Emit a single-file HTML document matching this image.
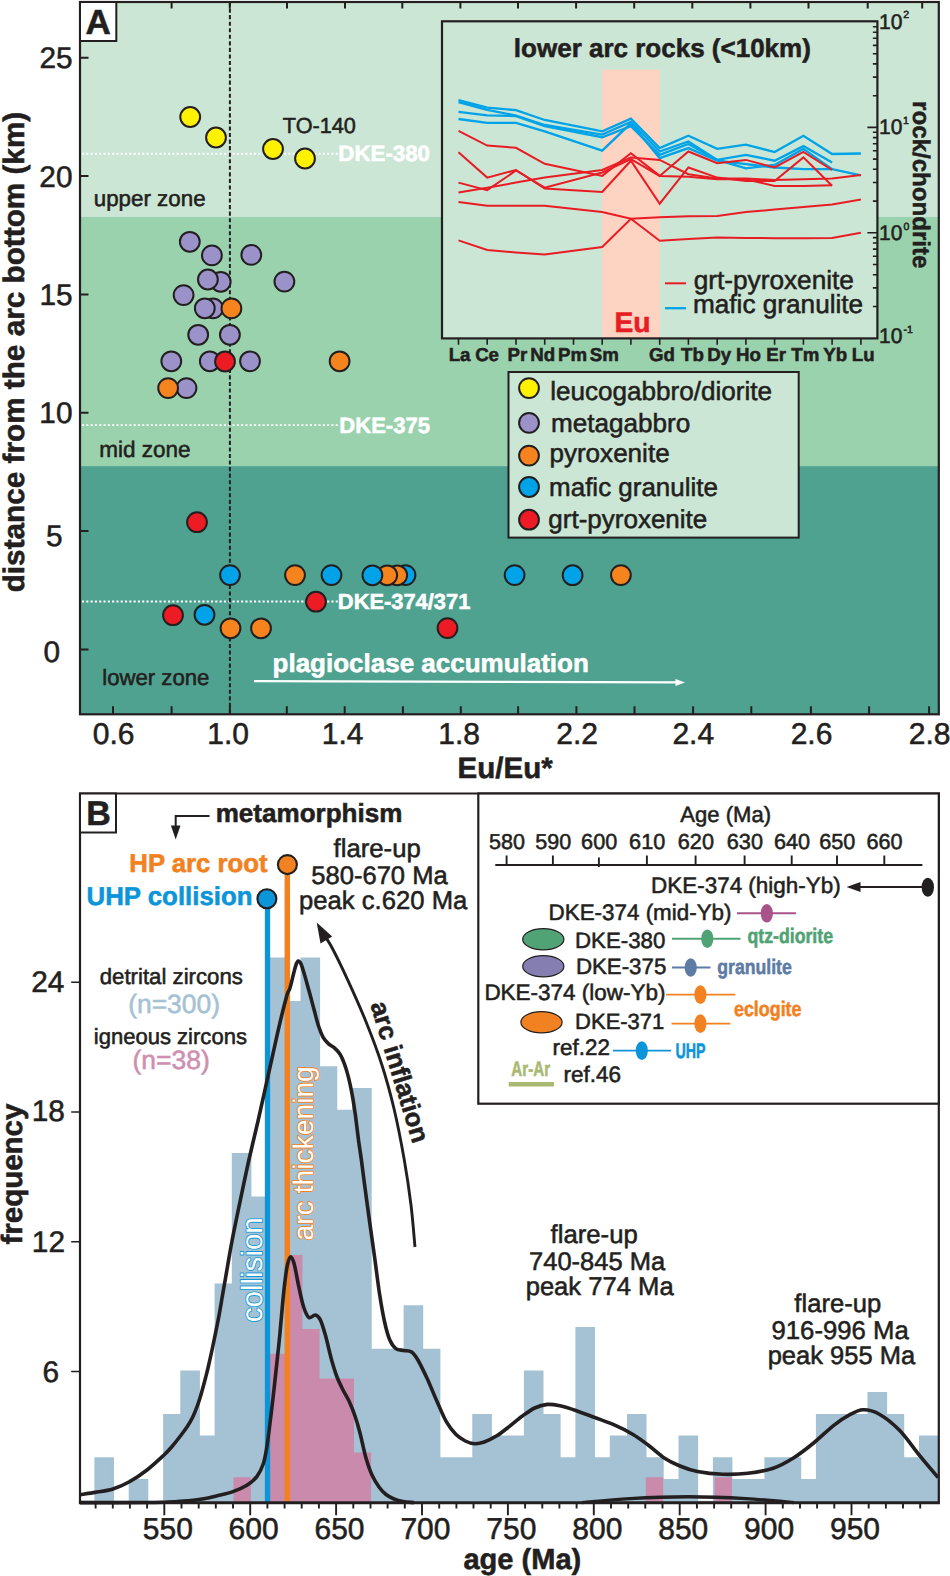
<!DOCTYPE html>
<html lang="en">
<head>
<meta charset="utf-8">
<title>Arc section Eu anomaly and zircon age figure</title>
<style>
html,body{margin:0;padding:0;background:#fff}
svg{display:block}
svg text{font-family:"Liberation Sans",sans-serif;text-rendering:geometricPrecision}
</style>
</head>
<body>
<svg width="950" height="1576" viewBox="0 0 950 1576">
<rect width="950" height="1576" fill="#fff"/>
<rect x="80" y="2" width="858.8" height="214.7" fill="#cbe6d4"/>
<rect x="80" y="216.7" width="858.8" height="249.40000000000003" fill="#9bd2ae"/>
<rect x="80" y="466.1" width="858.8" height="248.19999999999993" fill="#4fa290"/>
<line x1="82" y1="153.8" x2="339" y2="153.8" stroke="#fff" stroke-width="1.9" stroke-dasharray="2.1 2.2"/>
<line x1="82" y1="425.1" x2="340" y2="425.1" stroke="#fff" stroke-width="1.9" stroke-dasharray="2.1 2.2"/>
<line x1="82" y1="601.5" x2="339" y2="601.5" stroke="#fff" stroke-width="1.9" stroke-dasharray="2.1 2.2"/>
<line x1="229.9" y1="2" x2="229.9" y2="714.3" stroke="#231f20" stroke-width="2" stroke-dasharray="4.1 2.45"/>
<path d="M113 714.3v-8 M113.6 2v6.5 M171.6 714.3v-8 M171.6 2v6.5 M229.9 714.3v-8 M229.8 2v6.5 M286.8 714.3v-8 M287 2v6.5 M344.7 714.3v-8 M345 2v6.5 M402.9 714.3v-8 M402.3 2v6.5 M460.8 714.3v-8 M460.4 2v6.5 M518.1 714.3v-8 M518 2v6.5 M576.4 714.3v-8 M576.1 2v6.5 M634.5 714.3v-8 M634.2 2v6.5 M693.1 714.3v-8 M692.3 2v6.5 M751.3 714.3v-8 M750.4 2v6.5 M810.9 714.3v-8 M808.5 2v6.5 M869.1 714.3v-8 M867.7 2v6.5 M929.1 714.3v-8 M922.2 2v6.5 M80 649.5h8.5 M80 531.1h8.5 M80 412.8h8.5 M80 294.4h8.5 M80 176.1h8.5 M80 57.8h8.5" stroke="#231f20" stroke-width="2" fill="none"/>
<rect x="80" y="2" width="858.8" height="712.3" fill="none" stroke="#231f20" stroke-width="2.2"/>
<rect x="80" y="2" width="36.3" height="39" fill="#fff" stroke="#231f20" stroke-width="2"/>
<text x="98.2" y="33.8" font-size="35" font-weight="bold" fill="#231f20" text-anchor="middle" stroke="#231f20" stroke-width="0.55">A</text>
<text x="92.8" y="743.9" font-size="30" fill="#231f20" stroke="#231f20" stroke-width="0.55">0.6</text>
<text x="207.25" y="743.9" font-size="30" fill="#231f20" stroke="#231f20" stroke-width="0.55">1.0</text>
<text x="321.75" y="743.9" font-size="30" fill="#231f20" stroke="#231f20" stroke-width="0.55">1.4</text>
<text x="438.22" y="743.9" font-size="30" fill="#231f20" stroke="#231f20" stroke-width="0.55">1.8</text>
<text x="556.35" y="743.9" font-size="30" fill="#231f20" stroke="#231f20" stroke-width="0.55">2.2</text>
<text x="672.45" y="743.9" font-size="30" fill="#231f20" stroke="#231f20" stroke-width="0.55">2.4</text>
<text x="790.7" y="743.9" font-size="30" fill="#231f20" stroke="#231f20" stroke-width="0.55">2.6</text>
<text x="908.83" y="743.9" font-size="30" fill="#231f20" stroke="#231f20" stroke-width="0.55">2.8</text>
<text x="457.55" y="777.7" font-size="29.56" font-weight="bold" fill="#231f20" stroke="#231f20" stroke-width="0.55">Eu/Eu*</text>
<text x="39.44" y="68.2" font-size="29.8" fill="#231f20" stroke="#231f20" stroke-width="0.55">25</text>
<text x="39.36" y="186.5" font-size="29.8" fill="#231f20" stroke="#231f20" stroke-width="0.55">20</text>
<text x="39.44" y="304.8" font-size="29.8" fill="#231f20" stroke="#231f20" stroke-width="0.55">15</text>
<text x="39.36" y="423.2" font-size="29.8" fill="#231f20" stroke="#231f20" stroke-width="0.55">10</text>
<text x="46.03" y="545.7" font-size="29.8" fill="#231f20" stroke="#231f20" stroke-width="0.55">5</text>
<text x="43.43" y="661.6" font-size="29.8" fill="#231f20" stroke="#231f20" stroke-width="0.55">0</text>
<text x="0" y="0" transform="translate(23.8 592.31) rotate(-90)" font-size="29.72" font-weight="bold" fill="#231f20" stroke="#231f20" stroke-width="0.55">distance from the arc bottom (km)</text>
<text x="93.78" y="206.2" font-size="22.35" fill="#231f20" stroke="#231f20" stroke-width="0.55">upper zone</text>
<text x="99.21" y="457.1" font-size="22.54" fill="#231f20" stroke="#231f20" stroke-width="0.55">mid zone</text>
<text x="102.23" y="685.4" font-size="22.18" fill="#231f20" stroke="#231f20" stroke-width="0.55">lower zone</text>
<text x="282.84" y="132.6" font-size="21.66" fill="#231f20" stroke="#231f20" stroke-width="0.55">TO-140</text>
<text x="338.32" y="161.2" font-size="22.31" font-weight="bold" fill="#fff" stroke="#fff" stroke-width="0.55">DKE-380</text>
<text x="339.34" y="432.7" font-size="22.04" font-weight="bold" fill="#fff" stroke="#fff" stroke-width="0.55">DKE-375</text>
<text x="337.85" y="609.2" font-size="21.86" font-weight="bold" fill="#fff" stroke="#fff" stroke-width="0.55">DKE-374/371</text>
<text x="272.59" y="671.5" font-size="25.99" font-weight="bold" fill="#fff" stroke="#fff" stroke-width="0.55">plagioclase accumulation</text>
<path d="M254 681.2L678 682.4" stroke="#fff" stroke-width="2.2" fill="none"/>
<path d="M685 682.5l-9.5 -3.6v7.2z" fill="#fff"/>
<circle cx="190.2" cy="117" r="9.9" fill="#fff200" stroke="#231f20" stroke-width="2"/>
<circle cx="216" cy="137.5" r="9.9" fill="#fff200" stroke="#231f20" stroke-width="2"/>
<circle cx="273" cy="149" r="9.9" fill="#fff200" stroke="#231f20" stroke-width="2"/>
<circle cx="305" cy="158.5" r="9.9" fill="#fff200" stroke="#231f20" stroke-width="2"/>
<circle cx="189.8" cy="241.8" r="9.9" fill="#9b92c9" stroke="#231f20" stroke-width="2"/>
<circle cx="211.9" cy="255.4" r="9.9" fill="#9b92c9" stroke="#231f20" stroke-width="2"/>
<circle cx="251.3" cy="254.9" r="9.9" fill="#9b92c9" stroke="#231f20" stroke-width="2"/>
<circle cx="220.7" cy="281.8" r="9.9" fill="#9b92c9" stroke="#231f20" stroke-width="2"/>
<circle cx="207.9" cy="279.5" r="9.9" fill="#9b92c9" stroke="#231f20" stroke-width="2"/>
<circle cx="284.4" cy="281.6" r="9.9" fill="#9b92c9" stroke="#231f20" stroke-width="2"/>
<circle cx="183.6" cy="295.1" r="9.9" fill="#9b92c9" stroke="#231f20" stroke-width="2"/>
<circle cx="213" cy="308.4" r="9.9" fill="#9b92c9" stroke="#231f20" stroke-width="2"/>
<circle cx="204.8" cy="308.3" r="9.9" fill="#9b92c9" stroke="#231f20" stroke-width="2"/>
<circle cx="231.4" cy="308.4" r="9.9" fill="#f5841f" stroke="#231f20" stroke-width="2"/>
<circle cx="198.2" cy="334.8" r="9.9" fill="#9b92c9" stroke="#231f20" stroke-width="2"/>
<circle cx="229.9" cy="334.8" r="9.9" fill="#9b92c9" stroke="#231f20" stroke-width="2"/>
<circle cx="171.3" cy="361.3" r="9.9" fill="#9b92c9" stroke="#231f20" stroke-width="2"/>
<circle cx="209.8" cy="361.3" r="9.9" fill="#9b92c9" stroke="#231f20" stroke-width="2"/>
<circle cx="250" cy="361.3" r="9.9" fill="#9b92c9" stroke="#231f20" stroke-width="2"/>
<circle cx="225" cy="361.5" r="9.9" fill="#ed1c24" stroke="#231f20" stroke-width="2"/>
<circle cx="339.6" cy="361.3" r="9.9" fill="#f5841f" stroke="#231f20" stroke-width="2"/>
<circle cx="186.5" cy="388.1" r="9.9" fill="#9b92c9" stroke="#231f20" stroke-width="2"/>
<circle cx="168.1" cy="388.1" r="9.9" fill="#f5841f" stroke="#231f20" stroke-width="2"/>
<circle cx="197" cy="522.2" r="9.9" fill="#ed1c24" stroke="#231f20" stroke-width="2"/>
<circle cx="230" cy="575.1" r="9.9" fill="#00a3e8" stroke="#231f20" stroke-width="2"/>
<circle cx="295" cy="575.1" r="9.9" fill="#f5841f" stroke="#231f20" stroke-width="2"/>
<circle cx="331.5" cy="575.1" r="9.9" fill="#00a3e8" stroke="#231f20" stroke-width="2"/>
<circle cx="405.5" cy="575.1" r="9.9" fill="#00a3e8" stroke="#231f20" stroke-width="2"/>
<circle cx="397.2" cy="575.3" r="9.9" fill="#f5841f" stroke="#231f20" stroke-width="2"/>
<circle cx="387.2" cy="575.3" r="9.9" fill="#f5841f" stroke="#231f20" stroke-width="2"/>
<circle cx="372.4" cy="575.3" r="9.9" fill="#00a3e8" stroke="#231f20" stroke-width="2"/>
<circle cx="514.6" cy="575.1" r="9.9" fill="#00a3e8" stroke="#231f20" stroke-width="2"/>
<circle cx="572.6" cy="575.2" r="9.9" fill="#00a3e8" stroke="#231f20" stroke-width="2"/>
<circle cx="620.9" cy="575.1" r="9.9" fill="#f5841f" stroke="#231f20" stroke-width="2"/>
<circle cx="316" cy="601.7" r="9.9" fill="#ed1c24" stroke="#231f20" stroke-width="2"/>
<circle cx="173" cy="615.2" r="9.9" fill="#ed1c24" stroke="#231f20" stroke-width="2"/>
<circle cx="204.5" cy="614.8" r="9.9" fill="#00a3e8" stroke="#231f20" stroke-width="2"/>
<circle cx="230.5" cy="628.3" r="9.9" fill="#f5841f" stroke="#231f20" stroke-width="2"/>
<circle cx="261" cy="628.3" r="9.9" fill="#f5841f" stroke="#231f20" stroke-width="2"/>
<circle cx="447.5" cy="628.1" r="9.9" fill="#ed1c24" stroke="#231f20" stroke-width="2"/>
<rect x="442" y="21.3" width="435.4" height="317.09999999999997" fill="#cbe6d4"/>
<rect x="602.1" y="69.5" width="57.8" height="268.9" fill="#fdd3c1"/>
<polyline points="458.5,100.1 487.2,107.7 516.0,110.2 544.7,120 602.2,131.3 630.9,118.6 659.7,148.1 688.4,135.8 717.2,148.9 745.9,144.7 774.6,152 803.4,135.8 832.1,154 860.9,153.5" fill="none" stroke="#00a3e8" stroke-width="2.3" stroke-linejoin="miter"/>
<polyline points="458.5,102.1 487.2,109.9 516.0,115.6 544.7,125 602.2,134.6 630.9,121.9 659.7,151.5 688.4,141.4 717.2,159.9 745.9,154.8 774.6,160.7 803.4,146.1 832.1,162.4" fill="none" stroke="#00a3e8" stroke-width="2.3" stroke-linejoin="miter"/>
<polyline points="458.5,111.9 487.2,115.3 516.0,116.1 544.7,126.2 602.2,137.2 630.9,126.2 659.7,154.8 688.4,143.9 717.2,159.9 745.9,168.3 774.6,164.9 803.4,148.9 832.1,169.2" fill="none" stroke="#00a3e8" stroke-width="2.3" stroke-linejoin="miter"/>
<polyline points="458.5,119 487.2,122.8 516.0,122.8 544.7,131.3 602.2,150.6 630.9,123.3 659.7,158.2 688.4,148.1 717.2,160.7 745.9,164.1 774.6,167.5 803.4,169.2 832.1,169.2 860.9,175.4" fill="none" stroke="#00a3e8" stroke-width="2.3" stroke-linejoin="miter"/>
<polyline points="458.5,130.9 487.2,145.6 516.0,147.8 544.7,163.8 602.2,175.9 630.9,153.2 659.7,175.9 688.4,151.5 717.2,163.3 745.9,159.9 774.6,167.5 803.4,151.8 832.1,170" fill="none" stroke="#e81c24" stroke-width="2.0" stroke-linejoin="miter"/>
<polyline points="458.5,152.3 487.2,177.6 516.0,170 544.7,188.5 602.2,191.9 630.9,160.7 659.7,203.7 688.4,167.5 717.2,177.6 745.9,180.9 774.6,180.9 803.4,157.4 832.1,185.7" fill="none" stroke="#e81c24" stroke-width="2.0" stroke-linejoin="miter"/>
<polyline points="458.5,182.6 487.2,190.2 516.0,170.5 544.7,187.7 602.2,172.5 630.9,159.1 659.7,175.9 688.4,176.7 717.2,179.3 745.9,179.3 774.6,186 803.4,186 832.1,185.2" fill="none" stroke="#e81c24" stroke-width="2.0" stroke-linejoin="miter"/>
<polyline points="458.5,192.4 487.2,187.7 516.0,182.6 544.7,177.6 602.2,170 630.9,157.4 659.7,159.9 688.4,174.2 717.2,178.4 745.9,178.4 774.6,180.1 803.4,179.3 832.1,178.4 860.9,175.1" fill="none" stroke="#e81c24" stroke-width="2.0" stroke-linejoin="miter"/>
<polyline points="458.5,202 487.2,205.7 516.0,205.7 544.7,205.7 602.2,212.1 630.9,218.8 659.7,217.2 688.4,216.3 717.2,216 745.9,212.1 774.6,209.6 803.4,207.1 832.1,204.5 860.9,199.5" fill="none" stroke="#e81c24" stroke-width="2.0" stroke-linejoin="miter"/>
<polyline points="458.5,240.4 487.2,250 516.0,252.5 544.7,254.5 602.2,247 630.9,218.8 659.7,240.7 688.4,239.1 717.2,237.4 745.9,237.9 774.6,238.2 803.4,238.2 832.1,237.9 860.9,232.8" fill="none" stroke="#e81c24" stroke-width="2.0" stroke-linejoin="miter"/>
<path d="M877.4 306.5h-4.5 M877.4 287.9h-4.5 M877.4 274.7h-4.5 M877.4 264.5h-4.5 M877.4 256.2h-4.5 M877.4 249.1h-4.5 M877.4 243.0h-4.5 M877.4 237.6h-4.5 M877.4 201.1h-4.5 M877.4 182.5h-4.5 M877.4 169.3h-4.5 M877.4 159.1h-4.5 M877.4 150.8h-4.5 M877.4 143.7h-4.5 M877.4 137.6h-4.5 M877.4 132.2h-4.5 M877.4 95.7h-4.5 M877.4 77.1h-4.5 M877.4 63.9h-4.5 M877.4 53.7h-4.5 M877.4 45.4h-4.5 M877.4 38.3h-4.5 M877.4 32.2h-4.5 M877.4 26.8h-4.5 M877.4 232.8h-10 M877.4 127.4h-10 M458.5 338.4v6.3 M487.2 338.4v6.3 M516.0 338.4v6.3 M544.7 338.4v6.3 M573.5 338.4v6.3 M602.2 338.4v6.3 M630.9 338.4v6.3 M659.7 338.4v6.3 M688.4 338.4v6.3 M717.2 338.4v6.3 M745.9 338.4v6.3 M774.6 338.4v6.3 M803.4 338.4v6.3 M832.1 338.4v6.3 M860.9 338.4v6.3" stroke="#231f20" stroke-width="1.6" fill="none"/>
<rect x="442" y="21.3" width="435.4" height="317.09999999999997" fill="none" stroke="#231f20" stroke-width="2.2"/>
<text x="513.87" y="56.5" font-size="26.0" font-weight="bold" fill="#231f20" stroke="#231f20" stroke-width="0.55">lower arc rocks (&lt;10km)</text>
<text x="614.44" y="332.3" font-size="28.28" font-weight="bold" fill="#e81c24" stroke="#e81c24" stroke-width="0.55">Eu</text>
<path d="M665 283.3h21" stroke="#e81c24" stroke-width="2"/>
<path d="M665 308.2h21" stroke="#00a3e8" stroke-width="2.3"/>
<text x="693.63" y="288.5" font-size="26.23" fill="#231f20" stroke="#231f20" stroke-width="0.55">grt-pyroxenite</text>
<text x="692.97" y="313.3" font-size="26.18" fill="#231f20" stroke="#231f20" stroke-width="0.55">mafic granulite</text>
<text x="448.66" y="361.2" font-size="18.7" font-weight="bold" fill="#231f20" stroke="#231f20" stroke-width="0.55">La</text>
<text x="475.13" y="361.2" font-size="18.7" font-weight="bold" fill="#231f20" stroke="#231f20" stroke-width="0.55">Ce</text>
<text x="507.46" y="361.2" font-size="18.7" font-weight="bold" fill="#231f20" stroke="#231f20" stroke-width="0.55">Pr</text>
<text x="530.16" y="361.2" font-size="18.7" font-weight="bold" fill="#231f20" stroke="#231f20" stroke-width="0.55">Nd</text>
<text x="558.06" y="361.2" font-size="18.7" font-weight="bold" fill="#231f20" stroke="#231f20" stroke-width="0.55">Pm</text>
<text x="589.76" y="361.2" font-size="18.7" font-weight="bold" fill="#231f20" stroke="#231f20" stroke-width="0.55">Sm</text>
<text x="648.93" y="361.2" font-size="18.7" font-weight="bold" fill="#231f20" stroke="#231f20" stroke-width="0.55">Gd</text>
<text x="680.99" y="361.2" font-size="18.7" font-weight="bold" fill="#231f20" stroke="#231f20" stroke-width="0.55">Tb</text>
<text x="707.36" y="361.2" font-size="18.7" font-weight="bold" fill="#231f20" stroke="#231f20" stroke-width="0.55">Dy</text>
<text x="736.06" y="361.2" font-size="18.7" font-weight="bold" fill="#231f20" stroke="#231f20" stroke-width="0.55">Ho</text>
<text x="766.26" y="361.2" font-size="18.7" font-weight="bold" fill="#231f20" stroke="#231f20" stroke-width="0.55">Er</text>
<text x="791.29" y="361.2" font-size="18.7" font-weight="bold" fill="#231f20" stroke="#231f20" stroke-width="0.55">Tm</text>
<text x="823.29" y="361.2" font-size="18.7" font-weight="bold" fill="#231f20" stroke="#231f20" stroke-width="0.55">Yb</text>
<text x="851.86" y="361.2" font-size="18.7" font-weight="bold" fill="#231f20" stroke="#231f20" stroke-width="0.55">Lu</text>
<text x="879.1" y="29" font-size="21.0" fill="#231f20" stroke="#231f20" stroke-width="0.55">10</text>
<text x="903.35" y="18.4" font-size="10.5" fill="#231f20" stroke="#231f20" stroke-width="0.55">2</text>
<text x="879.1" y="134.3" font-size="21.0" fill="#231f20" stroke="#231f20" stroke-width="0.55">10</text>
<text x="903.09" y="123.7" font-size="10.5" fill="#231f20" stroke="#231f20" stroke-width="0.55">1</text>
<text x="879.1" y="240.2" font-size="21.0" fill="#231f20" stroke="#231f20" stroke-width="0.55">10</text>
<text x="903.48" y="229.6" font-size="10.5" fill="#231f20" stroke="#231f20" stroke-width="0.55">0</text>
<text x="879.1" y="343.1" font-size="21.0" fill="#231f20" stroke="#231f20" stroke-width="0.55">10</text>
<text x="903.43" y="332.5" font-size="10.5" fill="#231f20" stroke="#231f20" stroke-width="0.55">-1</text>
<text x="0" y="0" transform="translate(913.0 101.11) rotate(90)" font-size="24.09" font-weight="bold" fill="#231f20" stroke="#231f20" stroke-width="0.55">rock/chondrite</text>
<rect x="508.5" y="372" width="290.2" height="165.6" fill="#cbe6d4" stroke="#231f20" stroke-width="2"/>
<circle cx="529" cy="388.1" r="9.9" fill="#fff200" stroke="#231f20" stroke-width="2"/>
<text x="550.18" y="399.7" font-size="26.1" fill="#231f20" stroke="#231f20" stroke-width="0.55">leucogabbro/diorite</text>
<circle cx="529" cy="422.9" r="9.9" fill="#9b92c9" stroke="#231f20" stroke-width="2"/>
<text x="550.88" y="431.9" font-size="26.13" fill="#231f20" stroke="#231f20" stroke-width="0.55">metagabbro</text>
<circle cx="529" cy="455.6" r="9.9" fill="#f5841f" stroke="#231f20" stroke-width="2"/>
<text x="549.45" y="461.7" font-size="26.06" fill="#231f20" stroke="#231f20" stroke-width="0.55">pyroxenite</text>
<circle cx="529" cy="487" r="9.9" fill="#00a3e8" stroke="#231f20" stroke-width="2"/>
<text x="549.09" y="495.6" font-size="25.98" fill="#231f20" stroke="#231f20" stroke-width="0.55">mafic granulite</text>
<circle cx="529" cy="519.7" r="9.9" fill="#ed1c24" stroke="#231f20" stroke-width="2"/>
<text x="548.34" y="528" font-size="26.0" fill="#231f20" stroke="#231f20" stroke-width="0.55">grt-pyroxenite</text>
<path d="M80.1 1502.0L80.0 1502.0L95.6 1502.0L95.6 1458.5L112.8 1458.5L112.8 1502.0L129.9 1502.0L129.9 1480.3L147.1 1480.3L147.1 1502.0L164.3 1502.0L164.3 1415.1L181.5 1415.1L181.5 1371.6L198.7 1371.6L198.7 1436.8L215.8 1436.8L215.8 1284.7L233.0 1284.7L233.0 1154.3L250.2 1154.3L250.2 1197.8L267.4 1197.8L267.4 958.8L284.6 958.8L284.6 1002.2L301.7 1002.2L301.7 958.8L318.9 958.8L318.9 1067.4L336.1 1067.4L336.1 1110.9L353.3 1110.9L353.3 1089.1L370.5 1089.1L370.5 1349.9L387.6 1349.9L387.6 1349.9L404.8 1349.9L404.8 1306.4L422.0 1306.4L422.0 1349.9L439.2 1349.9L439.2 1458.5L456.4 1458.5L456.4 1458.5L473.5 1458.5L473.5 1415.1L490.7 1415.1L490.7 1436.8L507.9 1436.8L507.9 1436.8L525.1 1436.8L525.1 1371.6L542.3 1371.6L542.3 1415.1L559.4 1415.1L559.4 1458.5L576.6 1458.5L576.6 1328.2L593.8 1328.2L593.8 1458.5L611.0 1458.5L611.0 1436.8L628.2 1436.8L628.2 1415.1L645.3 1415.1L645.3 1458.5L662.5 1458.5L662.5 1480.3L679.7 1480.3L679.7 1436.8L696.9 1436.8L696.9 1502.0L714.1 1502.0L714.1 1458.5L731.2 1458.5L731.2 1480.3L748.4 1480.3L748.4 1480.3L765.6 1480.3L765.6 1458.5L782.8 1458.5L782.8 1458.5L800.0 1458.5L800.0 1480.3L817.1 1480.3L817.1 1415.1L834.3 1415.1L834.3 1415.1L851.5 1415.1L851.5 1415.1L868.7 1415.1L868.7 1393.3L885.9 1393.3L885.9 1415.1L903.0 1415.1L903.0 1458.5L920.2 1458.5L920.2 1436.8L937.4 1436.8L938.8 1502.0Z" fill="#a4c2d3" stroke="#a4c2d3" stroke-width="2.4" stroke-linejoin="miter"/>
<path d="M233.5 1502.0V1477.3H250.85V1502.0ZM267.9 1502.0V1353.8H285.21V1502.0ZM285.1 1502.0V1255.0H302.39V1502.0ZM302.2 1502.0V1329.1H319.57V1502.0ZM319.4 1502.0V1378.5H336.75V1502.0ZM336.6 1502.0V1378.5H353.93V1502.0ZM353.8 1502.0V1452.6H371.11V1502.0ZM645.8 1502.0V1477.3H663.17V1502.0ZM714.6 1502.0V1477.3H731.89V1502.0Z" fill="#c98aac"/>
<line x1="267.5" y1="899" x2="267.5" y2="1502.8" stroke="#0d95d9" stroke-width="5.3"/>
<line x1="287.3" y1="865" x2="287.3" y2="1502.8" stroke="#f28121" stroke-width="5.5"/>
<text x="0" y="0" transform="translate(261.6 1322.26) rotate(-90)" font-size="29.54" fill="#fff" stroke="#0d95d9" stroke-width="1.7" stroke-linejoin="round" paint-order="stroke">collision</text>
<text x="0" y="0" transform="translate(312.7 1240.4) rotate(-90)" font-size="28.24" fill="#fff" stroke="#f28121" stroke-width="1.7" stroke-linejoin="round" paint-order="stroke">arc thickening</text>
<path d="M80.0 1494.6C82.5 1494.2 89.8 1493.3 95.3 1492.4C100.8 1491.5 107.2 1490.8 113.0 1489.0C118.8 1487.2 124.2 1484.7 129.9 1481.5C135.6 1478.3 141.3 1474.4 147.0 1470.0C152.7 1465.6 159.8 1458.9 164.0 1455.0C168.2 1451.1 169.3 1449.6 172.0 1446.5C174.7 1443.4 177.5 1439.8 180.0 1436.5C182.5 1433.2 184.8 1430.3 187.0 1427.0C189.2 1423.7 191.2 1420.3 193.0 1416.5C194.8 1412.7 196.5 1408.2 198.0 1404.0C199.5 1399.8 200.8 1395.3 202.0 1391.0C203.2 1386.7 204.4 1382.3 205.5 1378.0C206.6 1373.7 207.3 1371.1 208.7 1365.0C210.1 1358.9 212.1 1349.7 213.8 1341.5C215.5 1333.3 217.3 1324.5 218.9 1316.1C220.5 1307.6 221.8 1299.2 223.3 1290.8C224.8 1282.3 226.2 1273.9 227.7 1265.4C229.2 1256.9 230.0 1251.1 232.2 1240.0C234.3 1228.9 237.8 1212.3 240.6 1199.0C243.4 1185.7 246.0 1172.8 248.9 1160.0C251.8 1147.2 254.6 1135.9 257.8 1122.0C261.0 1108.1 264.5 1091.7 267.9 1076.6C271.3 1061.5 274.9 1044.7 278.0 1031.2C281.1 1017.7 284.8 1003.0 286.8 995.8C288.8 988.6 288.7 992.2 290.0 988.0C291.3 983.8 293.3 974.5 294.4 970.5C295.4 966.5 295.7 965.6 296.3 964.0C296.9 962.4 297.4 961.1 298.2 961.0C298.9 960.9 299.8 961.5 300.8 963.5C301.8 965.5 302.6 968.5 304.0 973.0C305.4 977.5 307.3 984.7 309.0 990.8C310.7 996.9 312.5 1003.9 314.1 1009.8C315.7 1015.7 317.1 1021.8 318.6 1026.3C320.1 1030.8 321.4 1034.2 323.0 1037.1C324.6 1039.9 326.2 1041.6 328.1 1043.4C330.0 1045.2 332.4 1046.1 334.4 1047.9C336.4 1049.7 338.4 1051.5 340.1 1054.2C341.8 1057.0 343.2 1060.6 344.6 1064.4C346.0 1068.2 347.1 1072.0 348.4 1077.1C349.7 1082.2 351.0 1088.5 352.2 1094.8C353.4 1101.1 354.3 1107.6 355.4 1115.1C356.4 1122.6 357.5 1132.5 358.5 1140.0C359.5 1147.5 360.4 1152.8 361.4 1160.0C362.4 1167.2 363.0 1173.0 364.4 1183.2C365.8 1193.4 367.8 1208.8 369.5 1221.0C371.2 1233.2 372.8 1244.2 374.5 1256.4C376.2 1268.6 377.9 1283.4 379.6 1294.3C381.3 1305.2 382.9 1314.4 384.6 1322.0C386.3 1329.6 387.8 1335.4 389.7 1339.8C391.6 1344.2 393.5 1346.8 395.8 1348.6C398.1 1350.4 401.1 1349.9 403.7 1350.5C406.3 1351.1 409.2 1350.4 411.6 1352.0C414.0 1353.6 415.3 1355.5 417.9 1360.0C420.5 1364.5 424.2 1372.2 427.4 1379.0C430.5 1385.8 433.6 1393.9 436.8 1401.0C440.0 1408.1 443.1 1416.1 446.3 1421.6C449.5 1427.1 452.6 1431.0 455.8 1434.2C459.0 1437.4 462.2 1439.4 465.3 1441.0C468.4 1442.6 471.6 1443.5 474.7 1443.7C477.8 1443.9 480.5 1443.3 484.2 1442.0C487.9 1440.7 492.6 1438.4 496.8 1435.8C501.0 1433.2 505.3 1429.6 509.5 1426.3C513.7 1423.0 517.9 1419.2 522.1 1416.2C526.3 1413.2 530.5 1410.0 534.7 1408.0C538.9 1406.0 543.2 1404.8 547.4 1404.4C551.6 1404.0 555.3 1404.8 560.0 1405.8C564.7 1406.8 570.0 1408.5 575.8 1410.5C581.6 1412.5 588.4 1415.1 594.7 1417.5C601.0 1419.9 607.4 1421.9 613.7 1424.7C620.0 1427.5 626.8 1430.8 632.6 1434.2C638.4 1437.6 643.1 1441.2 648.4 1445.2C653.7 1449.2 658.9 1454.4 664.2 1457.9C669.5 1461.4 674.5 1463.7 680.0 1466.0C685.5 1468.3 690.3 1470.1 697.4 1471.5C704.5 1472.9 714.3 1474.0 722.7 1474.3C731.1 1474.6 739.6 1474.3 748.0 1473.3C756.4 1472.3 765.6 1470.8 773.2 1468.2C780.8 1465.7 786.7 1462.2 793.4 1458.0C800.1 1453.8 806.9 1448.5 813.6 1443.0C820.3 1437.5 827.9 1429.9 833.8 1425.3C839.7 1420.7 844.1 1417.8 849.0 1415.2C853.9 1412.6 858.0 1410.0 863.0 1409.8C868.0 1409.6 873.2 1410.8 879.3 1414.2C885.4 1417.6 892.8 1423.4 899.5 1430.3C906.2 1437.2 913.3 1447.7 919.7 1455.6C926.1 1463.5 935.0 1473.8 938.0 1477.5" fill="none" stroke="#231f20" stroke-width="3.6" stroke-linejoin="round"/>
<path d="M80.0 1502.6C91.7 1502.6 135.8 1502.6 150.0 1502.5C164.2 1502.4 160.0 1502.4 165.0 1502.2C170.0 1502.0 174.3 1501.9 180.0 1501.4C185.7 1501.0 193.9 1500.1 198.9 1499.5C203.9 1498.9 207.1 1498.2 210.0 1497.6C212.9 1497.0 212.7 1497.0 216.5 1496.0C220.3 1495.0 227.9 1493.4 233.0 1491.6C238.1 1489.8 242.9 1487.8 246.9 1485.3C250.9 1482.8 254.3 1480.0 257.0 1476.4C259.7 1472.8 261.6 1468.9 263.3 1463.8C265.0 1458.7 265.7 1454.0 267.0 1446.0C268.3 1438.0 269.6 1426.3 270.9 1415.8C272.2 1405.3 273.6 1393.0 274.7 1383.0C275.8 1373.0 276.8 1364.0 277.6 1356.0C278.5 1348.0 279.0 1343.0 279.8 1334.8C280.6 1326.6 281.5 1315.8 282.3 1307.0C283.1 1298.2 284.0 1288.7 284.9 1281.7C285.8 1274.7 286.4 1269.2 287.4 1265.0C288.4 1260.8 289.6 1257.0 290.7 1256.8C291.8 1256.6 292.8 1259.0 294.2 1264.0C295.6 1269.0 297.2 1279.5 298.8 1286.7C300.4 1294.0 302.1 1302.4 303.8 1307.5C305.5 1312.6 307.0 1316.2 308.9 1317.5C310.8 1318.8 313.3 1314.7 315.2 1315.0C317.1 1315.3 318.5 1316.3 320.2 1319.6C321.9 1322.9 323.4 1328.1 325.3 1334.8C327.2 1341.5 329.7 1353.0 331.6 1360.0C333.6 1367.0 335.1 1372.0 337.0 1377.0C338.9 1382.0 341.0 1386.0 343.0 1390.0C345.0 1394.0 347.0 1396.7 349.0 1401.0C351.0 1405.3 353.2 1410.7 355.0 1416.0C356.8 1421.3 358.2 1426.0 360.0 1433.0C361.8 1440.0 364.0 1451.0 366.0 1458.0C368.0 1465.0 369.8 1470.2 372.0 1475.0C374.2 1479.8 376.7 1483.8 379.0 1487.0C381.3 1490.2 383.5 1492.5 386.0 1494.5C388.5 1496.5 391.2 1497.8 394.0 1499.0C396.8 1500.2 399.7 1501.0 403.0 1501.6C406.3 1502.2 412.2 1502.4 414.0 1502.6" fill="none" stroke="#231f20" stroke-width="3.6" stroke-linejoin="round"/>
<path d="M582.0 1502.6C590.0 1501.9 612.3 1499.6 630.0 1498.6C647.7 1497.6 668.7 1496.8 688.0 1496.8C707.3 1496.8 728.3 1497.6 746.0 1498.6C763.7 1499.6 786.0 1501.9 794.0 1502.6" fill="none" stroke="#231f20" stroke-width="3.4"/>
<path d="M80 1371.5h-8.8 M80 1241.8h-8.8 M80 1112.0h-8.8 M80 982.3h-8.8" stroke="#231f20" stroke-width="1.4" fill="none"/>
<path d="M95.6 1502.8v5.7 M112.8 1502.8v5.7 M129.9 1502.8v5.7 M147.1 1502.8v5.7 M164.3 1502.8v12.4 M181.5 1502.8v5.7 M198.7 1502.8v5.7 M215.8 1502.8v5.7 M233.0 1502.8v5.7 M250.2 1502.8v12.4 M267.4 1502.8v5.7 M284.6 1502.8v5.7 M301.7 1502.8v5.7 M318.9 1502.8v5.7 M336.1 1502.8v12.4 M353.3 1502.8v5.7 M370.5 1502.8v5.7 M387.6 1502.8v5.7 M404.8 1502.8v5.7 M422.0 1502.8v12.4 M439.2 1502.8v5.7 M456.4 1502.8v5.7 M473.5 1502.8v5.7 M490.7 1502.8v5.7 M507.9 1502.8v12.4 M525.1 1502.8v5.7 M542.3 1502.8v5.7 M559.4 1502.8v5.7 M576.6 1502.8v5.7 M593.8 1502.8v12.4 M611.0 1502.8v5.7 M628.2 1502.8v5.7 M645.3 1502.8v5.7 M662.5 1502.8v5.7 M679.7 1502.8v12.4 M696.9 1502.8v5.7 M714.1 1502.8v5.7 M731.2 1502.8v5.7 M748.4 1502.8v5.7 M765.6 1502.8v12.4 M782.8 1502.8v5.7 M800.0 1502.8v5.7 M817.1 1502.8v5.7 M834.3 1502.8v5.7 M851.5 1502.8v12.4 M868.7 1502.8v5.7 M885.9 1502.8v5.7 M903.0 1502.8v5.7 M920.2 1502.8v5.7" stroke="#231f20" stroke-width="1.9" fill="none"/>
<path d="M80 793.5V1502.8M938.8 793.5V1502.8M78.9 793.5H939.9" stroke="#231f20" stroke-width="2.2" fill="none"/>
<path d="M78.9 1502.8H939.9" stroke="#231f20" stroke-width="3" fill="none"/>
<rect x="80" y="793.5" width="36" height="39" fill="#fff" stroke="#231f20" stroke-width="2"/>
<text x="98.6" y="825.2" font-size="34" font-weight="bold" fill="#231f20" text-anchor="middle" stroke="#231f20" stroke-width="0.55">B</text>
<text x="142.85" y="1539.4" font-size="30" fill="#231f20" stroke="#231f20" stroke-width="0.55">550</text>
<text x="228.6" y="1539.4" font-size="30" fill="#231f20" stroke="#231f20" stroke-width="0.55">600</text>
<text x="314.5" y="1539.4" font-size="30" fill="#231f20" stroke="#231f20" stroke-width="0.55">650</text>
<text x="400.4" y="1539.4" font-size="30" fill="#231f20" stroke="#231f20" stroke-width="0.55">700</text>
<text x="486.3" y="1539.4" font-size="30" fill="#231f20" stroke="#231f20" stroke-width="0.55">750</text>
<text x="572.31" y="1539.4" font-size="30" fill="#231f20" stroke="#231f20" stroke-width="0.55">800</text>
<text x="658.21" y="1539.4" font-size="30" fill="#231f20" stroke="#231f20" stroke-width="0.55">850</text>
<text x="744.08" y="1539.4" font-size="30" fill="#231f20" stroke="#231f20" stroke-width="0.55">900</text>
<text x="829.98" y="1539.4" font-size="30" fill="#231f20" stroke="#231f20" stroke-width="0.55">950</text>
<text x="463.48" y="1569.3" font-size="29.06" font-weight="bold" fill="#231f20" stroke="#231f20" stroke-width="0.55">age (Ma)</text>
<text x="42.42" y="1381.7" font-size="29.8" fill="#231f20" stroke="#231f20" stroke-width="0.55">6</text>
<text x="31.86" y="1252.3" font-size="29.8" fill="#231f20" stroke="#231f20" stroke-width="0.55">12</text>
<text x="31.64" y="1121.2" font-size="29.8" fill="#231f20" stroke="#231f20" stroke-width="0.55">18</text>
<text x="31.27" y="992.2" font-size="29.8" fill="#231f20" stroke="#231f20" stroke-width="0.55">24</text>
<text x="0" y="0" transform="translate(21.8 1244.57) rotate(-90)" font-size="29.51" font-weight="bold" fill="#231f20" stroke="#231f20" stroke-width="0.55">frequency</text>
<path d="M209.5 816H175.7V828" stroke="#231f20" stroke-width="2" fill="none"/>
<path d="M175.7 839.5l-4.8 -14h9.6z" fill="#231f20"/>
<text x="215.68" y="822.4" font-size="26.05" font-weight="bold" fill="#231f20" stroke="#231f20" stroke-width="0.55">metamorphism</text>
<text x="129.3" y="871.5" font-size="25.76" font-weight="bold" fill="#f28121" stroke="#f28121" stroke-width="0.55">HP arc root</text>
<text x="86.53" y="904.6" font-size="25.83" font-weight="bold" fill="#0d95d9" stroke="#0d95d9" stroke-width="0.55">UHP collision</text>
<circle cx="287.4" cy="864.6" r="9.5" fill="#f28121" stroke="#231f20" stroke-width="2.1"/>
<circle cx="266.9" cy="898.7" r="9.5" fill="#0d95d9" stroke="#231f20" stroke-width="2.1"/>
<text x="99.79" y="984.4" font-size="22.2" fill="#231f20" stroke="#231f20" stroke-width="0.55">detrital zircons</text>
<text x="128.19" y="1012.7" font-size="26.42" fill="#a4c2d3" stroke="#a4c2d3" stroke-width="0.55">(n=300)</text>
<text x="93.74" y="1043.9" font-size="22.06" fill="#231f20" stroke="#231f20" stroke-width="0.55">igneous zircons</text>
<text x="132.49" y="1068.9" font-size="26.47" fill="#cf8fb0" stroke="#cf8fb0" stroke-width="0.55">(n=38)</text>
<text x="333.55" y="856.8" font-size="25.72" fill="#231f20" stroke="#231f20" stroke-width="0.55">flare-up</text>
<text x="311.25" y="883.6" font-size="25.57" fill="#231f20" stroke="#231f20" stroke-width="0.55">580-670 Ma</text>
<text x="299.07" y="909" font-size="25.65" fill="#231f20" stroke="#231f20" stroke-width="0.55">peak c.620 Ma</text>
<text x="550.55" y="1243" font-size="25.72" fill="#231f20" stroke="#231f20" stroke-width="0.55">flare-up</text>
<text x="529.0" y="1270" font-size="25.54" fill="#231f20" stroke="#231f20" stroke-width="0.55">740-845 Ma</text>
<text x="525.67" y="1295" font-size="25.6" fill="#231f20" stroke="#231f20" stroke-width="0.55">peak 774 Ma</text>
<text x="794.36" y="1312" font-size="25.6" fill="#231f20" stroke="#231f20" stroke-width="0.55">flare-up</text>
<text x="771.52" y="1339.4" font-size="25.71" fill="#231f20" stroke="#231f20" stroke-width="0.55">916-996 Ma</text>
<text x="767.68" y="1364" font-size="25.53" fill="#231f20" stroke="#231f20" stroke-width="0.55">peak 955 Ma</text>
<path d="M321.0 931.0C322.6 933.4 326.2 937.0 330.7 945.3C335.2 953.6 342.2 968.0 348.0 980.6C353.8 993.2 360.1 1007.1 365.7 1021.0C371.3 1034.9 376.9 1049.2 381.6 1064.0C386.4 1078.8 390.4 1093.5 394.2 1109.5C398.0 1125.5 401.5 1144.1 404.3 1160.0C407.1 1175.9 409.2 1190.5 411.0 1205.0C412.8 1219.5 414.3 1240.0 415.0 1247.0" fill="none" stroke="#231f20" stroke-width="2.9"/>
<path d="M316.7 922.5L332.2 936.5L320.5 943.5Z" fill="#231f20"/>
<text x="0" y="0" transform="translate(370.17 1004.38) rotate(73)" font-size="25.8" font-weight="bold" fill="#231f20" stroke="#231f20" stroke-width="0.55">arc inflation</text>
<rect x="478.3" y="793.5" width="460.49999999999994" height="310.20000000000005" fill="#fff" stroke="#231f20" stroke-width="2.2"/>
<path d="M495.3 865H922.4 M506.6 865v-9.5 M552.9 865v-9.5 M598.9 867v-9.5 M646.9 865v-9.5 M695.6 865v-9.5 M744.6 865v-9.5 M791.7 865v-9.5 M837.0 865v-9.5 M884.3 865v-9.5" stroke="#231f20" stroke-width="1.9" fill="none"/>
<text x="489.01" y="848.7" font-size="21.54" fill="#231f20" stroke="#231f20" stroke-width="0.55">580</text>
<text x="535.31" y="848.7" font-size="21.54" fill="#231f20" stroke="#231f20" stroke-width="0.55">590</text>
<text x="581.09" y="848.7" font-size="21.68" fill="#231f20" stroke="#231f20" stroke-width="0.55">600</text>
<text x="629.09" y="848.7" font-size="21.68" fill="#231f20" stroke="#231f20" stroke-width="0.55">610</text>
<text x="677.79" y="848.7" font-size="21.68" fill="#231f20" stroke="#231f20" stroke-width="0.55">620</text>
<text x="726.79" y="848.7" font-size="21.68" fill="#231f20" stroke="#231f20" stroke-width="0.55">630</text>
<text x="773.89" y="848.7" font-size="21.68" fill="#231f20" stroke="#231f20" stroke-width="0.55">640</text>
<text x="819.19" y="848.7" font-size="21.68" fill="#231f20" stroke="#231f20" stroke-width="0.55">650</text>
<text x="866.49" y="848.7" font-size="21.68" fill="#231f20" stroke="#231f20" stroke-width="0.55">660</text>
<text x="680.27" y="822.3" font-size="22.07" fill="#231f20" stroke="#231f20" stroke-width="0.55">Age (Ma)</text>
<text x="651.08" y="892.7" font-size="22.44" fill="#231f20" stroke="#231f20" stroke-width="0.55">DKE-374 (high-Yb)</text>
<text x="548.58" y="919.5" font-size="22.4" fill="#231f20" stroke="#231f20" stroke-width="0.55">DKE-374 (mid-Yb)</text>
<text x="574.99" y="947.8" font-size="22.27" fill="#231f20" stroke="#231f20" stroke-width="0.55">DKE-380</text>
<text x="575.89" y="973.8" font-size="22.29" fill="#231f20" stroke="#231f20" stroke-width="0.55">DKE-375</text>
<text x="484.38" y="1000.3" font-size="22.49" fill="#231f20" stroke="#231f20" stroke-width="0.55">DKE-374 (low-Yb)</text>
<text x="575.12" y="1028.6" font-size="21.97" fill="#231f20" stroke="#231f20" stroke-width="0.55">DKE-371</text>
<text x="552.62" y="1055.2" font-size="22.42" fill="#231f20" stroke="#231f20" stroke-width="0.55">ref.22</text>
<text x="563.41" y="1081.7" font-size="22.49" fill="#231f20" stroke="#231f20" stroke-width="0.55">ref.46</text>
<path d="M856 887H927" stroke="#231f20" stroke-width="2"/>
<path d="M846.5 887l14 -5v10z" fill="#231f20"/>
<ellipse cx="927.8" cy="887.2" rx="6.2" ry="9.5" fill="#231f20"/>
<path d="M737 913.3H796" stroke="#a8548a" stroke-width="1.9"/>
<ellipse cx="766.8" cy="913.3" rx="6.1" ry="9.3" fill="#a8548a"/>
<path d="M672 938.7H740.5" stroke="#4fa374" stroke-width="1.9"/>
<ellipse cx="707.3" cy="938.7" rx="6.1" ry="9.3" fill="#4fa374"/>
<path d="M672 967.5H710.5" stroke="#5d7ba5" stroke-width="1.9"/>
<ellipse cx="690.7" cy="967.5" rx="6.1" ry="9.3" fill="#5d7ba5"/>
<path d="M666 994.6H735.3" stroke="#f28121" stroke-width="1.9"/>
<ellipse cx="700.4" cy="994.6" rx="6.1" ry="9.3" fill="#f28121"/>
<path d="M671.5 1023.6H730.3" stroke="#f28121" stroke-width="1.9"/>
<ellipse cx="700.4" cy="1023.6" rx="6.1" ry="9.3" fill="#f28121"/>
<path d="M613 1050.6H671" stroke="#0d95d9" stroke-width="1.9"/>
<ellipse cx="641.8" cy="1050.6" rx="6.1" ry="9.3" fill="#0d95d9"/>
<ellipse cx="543.3" cy="939.2" rx="20.6" ry="10.6" fill="#4fa374" stroke="#231f20" stroke-width="1.2"/>
<ellipse cx="543.3" cy="966.2" rx="20.6" ry="10.6" fill="#857eb0" stroke="#231f20" stroke-width="1.2"/>
<ellipse cx="541.5" cy="1022.2" rx="20.6" ry="10.6" fill="#f28121" stroke="#231f20" stroke-width="1.2"/>
<text x="747.5" y="943.2" font-size="21" font-weight="bold" fill="#4fa374" textLength="85.5" lengthAdjust="spacingAndGlyphs" stroke="#4fa374" stroke-width="0.55">qtz-diorite</text>
<text x="717.3" y="973.6" font-size="21" font-weight="bold" fill="#5d7ba5" textLength="74.5" lengthAdjust="spacingAndGlyphs" stroke="#5d7ba5" stroke-width="0.55">granulite</text>
<text x="734" y="1016" font-size="21" font-weight="bold" fill="#f28121" textLength="67.5" lengthAdjust="spacingAndGlyphs" stroke="#f28121" stroke-width="0.55">eclogite</text>
<text x="675.5" y="1057.6" font-size="21" font-weight="bold" fill="#0d95d9" textLength="30" lengthAdjust="spacingAndGlyphs" stroke="#0d95d9" stroke-width="0.55">UHP</text>
<text x="511.3" y="1075.7" font-size="21" font-weight="bold" fill="#a9b971" textLength="38.8" lengthAdjust="spacingAndGlyphs" stroke="#a9b971" stroke-width="0.55">Ar-Ar</text>
<rect x="508.7" y="1082" width="45.2" height="4.5" fill="#a9b971"/>
</svg>
</body>
</html>
